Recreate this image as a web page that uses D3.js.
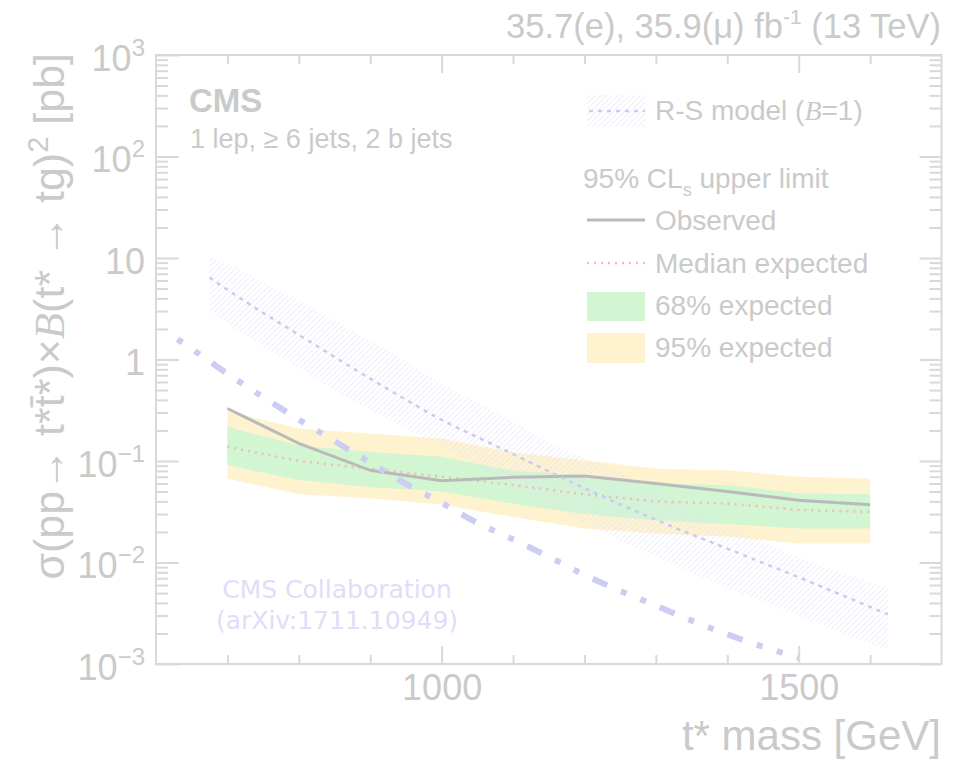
<!DOCTYPE html>
<html>
<head>
<meta charset="utf-8">
<title>t* pair limits</title>
<script src="https://cdn.jsdelivr.net/npm/d3@7"></script>
<style>
body { margin: 0; background: #fff; }
svg { display: block; font-family: "Liberation Sans", Arial, Helvetica, sans-serif; }
.frame { fill: none; stroke: #d9d9d9; stroke-width: 2; }
.tick line { stroke: #d9d9d9; stroke-width: 2; }
.domain { display: none; }
.txt { fill: #cacaca; }
</style>
</head>
<body>
<script>

// expected / observed limits (pb), one point per 100 GeV
var massPts  = [700, 800, 900, 1000, 1100, 1200, 1300, 1400, 1500, 1600];
var observed = [0.329, 0.149, 0.081, 0.064, 0.069, 0.071, 0.060, 0.050, 0.041, 0.037];
var expected = [0.138, 0.100, 0.084, 0.070, 0.058, 0.047, 0.040, 0.038, 0.033, 0.0315];
var exp68Up  = [0.217, 0.143, 0.123, 0.110, 0.080, 0.0725, 0.060, 0.058, 0.048, 0.047];
var exp68Dn  = [0.091, 0.065, 0.055, 0.050, 0.038, 0.030, 0.026, 0.024, 0.0216, 0.0216];
var exp95Up  = [0.310, 0.209, 0.187, 0.167, 0.122, 0.102, 0.084, 0.081, 0.070, 0.067];
var exp95Dn  = [0.067, 0.047, 0.043, 0.037, 0.028, 0.0216, 0.0193, 0.0179, 0.0154, 0.0154];

// R-S model cross section with its band
var rsMass = [675, 700, 750, 800, 850, 900, 950, 1000, 1050, 1100, 1150, 1200, 1250, 1300, 1350, 1400, 1450, 1500, 1550, 1600, 1625];
var rsXsec = [6.43, 4.87, 2.88, 1.75, 1.06, 0.648, 0.402, 0.254, 0.172, 0.117, 0.079, 0.054, 0.0374, 0.0264, 0.0189, 0.0137, 0.0099, 0.00716, 0.00512, 0.00365, 0.00308];
var rsUp   = [10.3, 8.7, 5.8, 3.84, 2.44, 1.51, 0.96, 0.58, 0.38, 0.247, 0.153, 0.107, 0.078, 0.053, 0.035, 0.024, 0.0162, 0.0113, 0.0084, 0.0064, 0.0056];
var rsDn   = [3.06, 2.28, 1.35, 0.82, 0.50, 0.317, 0.210, 0.137, 0.089, 0.058, 0.0367, 0.0244, 0.0166, 0.0113, 0.0079, 0.0056, 0.0041, 0.0030, 0.00215, 0.0016, 0.0014];

// overlaid dash-dot curve
var ddMass = [630, 650, 700, 750, 800, 850, 900, 950, 1000, 1050, 1100, 1150, 1200, 1250, 1300, 1350, 1400, 1450, 1500];
var ddXsec = [1.585, 1.275, 0.723, 0.427, 0.256, 0.157, 0.0966, 0.0596, 0.0386, 0.0246, 0.0169, 0.0114, 0.00755, 0.00526, 0.00376, 0.00268, 0.00196, 0.00148, 0.00115];

// axis ticks
var xMajor = [1000, 1500];
var xMinor = [700, 800, 900, 1100, 1200, 1300, 1400, 1600];
var yTickVals = [1e3, 1e2, 10, 1, 0.1, 0.01, 0.001];
var yTickBase = ["10", "10", "10", "1", "10", "10", "10"];
var yTickExp  = ["3", "2", "", "", "\u22121", "\u22122", "\u22123"];

var W = 957, H = 760;
var pL = 156, pR = 941.5, pT = 55, pB = 664;

var x = d3.scaleLinear().domain([600, 1700]).range([pL, pR]);
var y = d3.scaleLog().domain([1e-3, 1e3]).range([pB, pT]);

var svg = d3.select("body").append("svg")
  .attr("width", W)
  .attr("height", H);

var defs = svg.append("defs");
var pat = defs.append("pattern")
  .attr("id", "hatch")
  .attr("patternUnits", "userSpaceOnUse")
  .attr("width", 4).attr("height", 4)
  .attr("patternTransform", "rotate(45)");
pat.append("line")
  .attr("x1", 0).attr("y1", 0).attr("x2", 0).attr("y2", 4)
  .attr("stroke", "#e0e0f9").attr("stroke-width", 1.1);

function rows(ms, a, b) {
  return ms.map(function(m, i) { return {m: m, lo: a[i], hi: b[i]}; });
}

var band = d3.area()
  .x(function(d) { return x(d.m); })
  .y0(function(d) { return y(d.lo); })
  .y1(function(d) { return y(d.hi); });

var smoothBand = d3.area()
  .curve(d3.curveMonotoneX)
  .x(function(d) { return x(d.m); })
  .y0(function(d) { return y(d.lo); })
  .y1(function(d) { return y(d.hi); });

function lineOf(ms, vs, curve) {
  var l = d3.line()
    .x(function(d) { return x(d[0]); })
    .y(function(d) { return y(d[1]); });
  if (curve) l.curve(curve);
  return l(ms.map(function(m, i) { return [m, vs[i]]; }));
}

// bands
svg.append("path").attr("d", band(rows(massPts, exp95Dn, exp95Up))).attr("fill", "#fff3cf");
svg.append("path").attr("d", band(rows(massPts, exp68Dn, exp68Up))).attr("fill", "#d2f5d2");
svg.append("path").attr("d", smoothBand(rows(rsMass, rsDn, rsUp))).attr("fill", "url(#hatch)");

// lines
svg.append("path").attr("d", lineOf(massPts, expected))
  .attr("fill", "none").attr("stroke", "#f2baba").attr("stroke-width", 2.5)
  .style("stroke-dasharray", "2,5");
svg.append("path").attr("d", lineOf(massPts, observed))
  .attr("fill", "none").attr("stroke", "#bababa").attr("stroke-width", 3);
svg.append("path").attr("d", lineOf(rsMass, rsXsec, d3.curveMonotoneX))
  .attr("fill", "none").attr("stroke", "#cbcbf1").attr("stroke-width", 2.5)
  .style("stroke-dasharray", "4,5");
svg.append("path").attr("d", lineOf(ddMass, ddXsec, d3.curveMonotoneX))
  .attr("fill", "none").attr("stroke", "#cdcdf3").attr("stroke-width", 6)
  .style("stroke-dasharray", "6,15,6,15,16,15");

// frame and ticks
svg.append("rect").attr("class", "frame")
  .attr("x", pL).attr("y", pT).attr("width", pR - pL).attr("height", pB - pT);

var yMinor = y.ticks().filter(function(v) { return yTickVals.indexOf(v) < 0; });

svg.append("g").attr("transform", "translate(0," + pB + ")")
  .call(d3.axisBottom(x).tickValues(xMinor).tickSize(-9).tickFormat(""));
var xAx = svg.append("g").attr("transform", "translate(0," + pB + ")")
  .call(d3.axisBottom(x).tickValues(xMajor).tickSize(-18).tickPadding(10).tickFormat(d3.format("d")));
xAx.attr("font-size", 36).attr("font-family", null);
xAx.selectAll("text").attr("class", "txt").attr("fill", null);

svg.append("g").attr("transform", "translate(0," + pT + ")")
  .call(d3.axisTop(x).tickValues(xMinor).tickSize(-9).tickFormat(""));
svg.append("g").attr("transform", "translate(0," + pT + ")")
  .call(d3.axisTop(x).tickValues(xMajor).tickSize(-18).tickFormat(""));

svg.append("g").attr("transform", "translate(" + pL + ",0)")
  .call(d3.axisLeft(y).tickValues(yMinor).tickSize(-12).tickFormat(""));
svg.append("g").attr("transform", "translate(" + pL + ",0)")
  .call(d3.axisLeft(y).tickValues(yTickVals).tickSize(-23).tickFormat(""));
svg.append("g").attr("transform", "translate(" + pR + ",0)")
  .call(d3.axisRight(y).tickValues(yMinor).tickSize(-12).tickFormat(""));
svg.append("g").attr("transform", "translate(" + pR + ",0)")
  .call(d3.axisRight(y).tickValues(yTickVals).tickSize(-22).tickFormat(""));

// y tick labels 10^n
var yl = svg.append("g").selectAll("text").data(yTickVals).enter().append("text")
  .attr("class", "txt")
  .attr("x", 145)
  .attr("y", function(d) { return y(d) + 15.5; })
  .attr("text-anchor", "end")
  .attr("font-size", 36);
yl.append("tspan").text(function(d, i) { return yTickBase[i]; });
yl.append("tspan").attr("font-size", 24).attr("dy", -15)
  .text(function(d, i) { return yTickExp[i]; });

// axis titles
svg.append("text").attr("class", "txt")
  .attr("x", 941).attr("y", 750).attr("text-anchor", "end").attr("font-size", 42)
  .text("t* mass [GeV]");

var yt = svg.append("text").attr("class", "txt")
  .attr("transform", "translate(64,53) rotate(-90)")
  .attr("text-anchor", "end").attr("font-size", 43);
yt.append("tspan").text("\u03c3(pp\u2192 t*t\u0304*)\u00d7");
yt.append("tspan").attr("font-family", "Liberation Serif, serif").attr("font-style", "italic").text("B");
yt.append("tspan").text("(t* \u2192 tg)");
yt.append("tspan").attr("font-size", 29).attr("dy", -16).text("2");
yt.append("tspan").attr("dy", 16).text(" [pb]");

// luminosity
var lu = svg.append("text").attr("class", "txt")
  .attr("x", 941).attr("y", 38).attr("text-anchor", "end").attr("font-size", 34.5);
lu.append("tspan").text("35.7(e), 35.9(\u03bc) fb");
lu.append("tspan").attr("font-size", 21).attr("dy", -14).text("-1");
lu.append("tspan").attr("dy", 14).text(" (13 TeV)");

svg.append("text").attr("class", "txt")
  .attr("x", 189).attr("y", 112).attr("font-size", 33).attr("font-weight", "bold")
  .text("CMS");
svg.append("text").attr("class", "txt")
  .attr("x", 190).attr("y", 148).attr("font-size", 27)
  .text("1 lep, \u2265 6 jets, 2 b jets");

// legend
var lg = svg.append("g").attr("font-size", 28);
lg.append("rect").attr("x", 587).attr("y", 95).attr("width", 58).attr("height", 32).attr("fill", "url(#hatch)");
lg.append("line").attr("x1", 589).attr("x2", 645).attr("y1", 111).attr("y2", 111)
  .attr("stroke", "#cbcbf1").attr("stroke-width", 2.5).style("stroke-dasharray", "4,5");
var t1 = lg.append("text").attr("class", "txt").attr("x", 655).attr("y", 120);
t1.append("tspan").text("R-S model (");
t1.append("tspan").attr("font-family", "Liberation Serif, serif").attr("font-style", "italic").text("B");
t1.append("tspan").text("=1)");

var t2 = lg.append("text").attr("class", "txt").attr("x", 583).attr("y", 188);
t2.append("tspan").text("95% CL");
t2.append("tspan").attr("font-size", 18).attr("dy", 8).text("s");
t2.append("tspan").attr("dy", -8).text(" upper limit");

lg.append("line").attr("x1", 587).attr("x2", 645).attr("y1", 220).attr("y2", 220)
  .attr("stroke", "#bababa").attr("stroke-width", 3);
lg.append("text").attr("class", "txt").attr("x", 655).attr("y", 230).text("Observed");

lg.append("line").attr("x1", 587).attr("x2", 645).attr("y1", 263).attr("y2", 263)
  .attr("stroke", "#f2baba").attr("stroke-width", 2.5).style("stroke-dasharray", "2,5");
lg.append("text").attr("class", "txt").attr("x", 655).attr("y", 273).text("Median expected");

lg.append("rect").attr("x", 587).attr("y", 292).attr("width", 58).attr("height", 29).attr("fill", "#d2f5d2");
lg.append("text").attr("class", "txt").attr("x", 655).attr("y", 315).text("68% expected");

lg.append("rect").attr("x", 587).attr("y", 333).attr("width", 58).attr("height", 30).attr("fill", "#fff3cf");
lg.append("text").attr("class", "txt").attr("x", 655).attr("y", 357).text("95% expected");

// source note
var note = svg.append("text").attr("font-family", "DejaVu Sans, sans-serif").attr("font-size", 25)
  .attr("fill", "#dedefa").attr("text-anchor", "middle");
note.append("tspan").attr("x", 337).attr("y", 598).text("CMS Collaboration");
note.append("tspan").attr("x", 337).attr("y", 629).text("(arXiv:1711.10949)");

</script>
</body>
</html>
